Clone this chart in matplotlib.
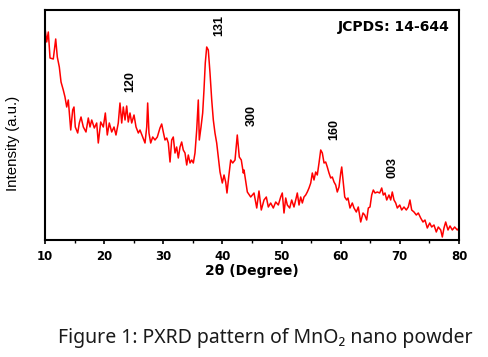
import matplotlib
matplotlib.use("Agg")
import matplotlib.pyplot as plt
from matplotlib.ticker import MultipleLocator

# 2-theta (degree) and intensity (a.u.)
two_theta = [10.00, 10.29, 10.56, 10.85, 11.40, 11.81, 12.08, 12.42, 12.71, 13.09,
             13.38, 13.67, 13.94, 14.35, 14.68, 14.90, 15.12, 15.53, 15.80, 16.09,
             16.48, 16.93, 17.32, 17.61, 17.90, 18.34, 18.74, 19.01, 19.42, 19.86,
             20.20, 20.53, 20.87, 21.28, 21.67, 22.00, 22.39, 22.68, 22.97, 23.24,
             23.53, 23.81, 24.08, 24.37, 24.66, 25.05, 25.39, 25.78, 26.06, 26.52,
             26.91, 27.20, 27.36, 27.58, 27.87, 28.21, 28.60, 28.99, 29.44, 29.73,
             30.00, 30.29, 30.58, 30.85, 31.14, 31.42, 31.69, 31.98, 32.26, 32.54,
             32.83, 33.11, 33.38, 33.67, 33.96, 34.23, 34.52, 34.80, 35.08, 35.36,
             35.65, 35.92, 36.09, 36.38, 36.66, 36.88, 37.10, 37.34, 37.61, 37.90,
             38.19, 38.46, 38.74, 39.03, 39.30, 39.59, 39.98, 40.27, 40.55, 40.77,
             41.06, 41.40, 41.74, 42.13, 42.51, 42.85, 43.19, 43.53, 43.65, 44.21,
             44.78, 45.34, 45.80, 46.18, 46.57, 47.03, 47.42, 47.76, 48.16, 48.60,
             49.01, 49.45, 49.85, 50.12, 50.41, 50.70, 50.97, 51.37, 51.71, 52.10,
             52.39, 52.66, 52.95, 53.23, 53.51, 53.79, 54.08, 54.35, 54.64, 54.93,
             55.20, 55.48, 55.77, 56.04, 56.33, 56.62, 56.89, 57.18, 57.46, 57.73,
             58.02, 58.31, 58.58, 58.87, 59.15, 59.42, 59.71, 60.00, 60.17, 60.39,
             60.68, 61.01, 61.23, 61.57, 61.96, 62.25, 62.64, 62.97, 63.38, 63.77,
             64.06, 64.39, 64.67, 64.95, 65.24, 65.51, 65.80, 66.19, 66.59, 66.93,
             67.20, 67.49, 67.78, 68.16, 68.45, 68.72, 69.01, 69.30, 69.57, 69.98,
             70.31, 70.70, 71.09, 71.43, 71.71, 72.00, 72.39, 72.78, 73.12, 73.52,
             73.91, 74.25, 74.64, 75.05, 75.38, 75.77, 76.16, 76.50, 76.91, 77.18,
             77.46, 77.75, 78.14, 78.48, 78.87, 79.27, 79.71, 80.00]
intensity = [212, 198, 208, 182, 181, 201, 183, 173, 158, 150,
             143, 133, 140, 110, 130, 133, 113, 107, 117, 123,
             113, 108, 122, 113, 120, 112, 117, 97, 118, 113,
             127, 105, 117, 108, 113, 105, 117, 137, 117, 133,
             120, 134, 118, 127, 117, 125, 113, 107, 110, 103,
             97, 113, 137, 107, 97, 103, 100, 103, 112, 116,
             108, 100, 102, 97, 78, 100, 103, 87, 93, 82,
             93, 98, 90, 87, 75, 85, 77, 80, 77, 87,
             110, 140, 100, 113, 127, 150, 177, 193, 190, 167,
             140, 120, 107, 97, 83, 68, 57, 65, 58, 47,
             63, 80, 77, 80, 105, 83, 80, 67, 70, 48,
             43, 47, 32, 49, 30, 40, 43, 33, 37, 32,
             38, 35, 43, 47, 27, 42, 35, 32, 40, 33,
             40, 47, 35, 43, 37, 43, 45, 48, 52, 57,
             67, 60, 68, 65, 77, 90, 87, 77, 78, 73,
             67, 62, 63, 58, 55, 48, 53, 67, 73, 60,
             43, 40, 42, 32, 37, 32, 28, 33, 18, 27,
             25, 20, 32, 33, 45, 50, 47, 48, 47, 52,
             45, 47, 40, 45, 40, 48, 40, 37, 32, 35,
             30, 33, 30, 33, 40, 30, 28, 25, 27, 22,
             18, 20, 12, 17, 13, 15, 8, 13, 10, 3,
             12, 18, 10, 14, 10, 13, 10, 12]

peak_labels = ["120", "131", "300", "160", "003"]
peak_x = [24.4, 39.4, 45.0, 58.9, 68.8]
peak_y = [158, 215, 125, 111, 73]

x_ticks = [10, 20, 30, 40, 50, 60, 70, 80]

fig = plt.figure(figsize=(4.88, 3.57), dpi=100)
ax = fig.add_axes([45/488, 1-240/357, 414/488, 230/357])

ax.plot(two_theta, intensity, color="#ff0000", lw=1.1)
ax.set_xlim(10, 80)
ax.set_ylim(0, 230)
ax.set_xticks(x_ticks)
ax.xaxis.set_minor_locator(MultipleLocator(5))
ax.set_yticks([])
ax.tick_params(axis="x", which="major", direction="out", length=3, width=1.2, pad=4)
ax.tick_params(axis="x", which="minor", direction="out", length=2, width=1.0)
for lab in ax.get_xticklabels():
    lab.set_fontfamily("DejaVu Sans")
    lab.set_fontweight("bold")
    lab.set_fontsize(8.5)
for sp in ax.spines.values():
    sp.set_linewidth(1.5)

ax.set_xlabel("2θ (Degree)", fontfamily="DejaVu Sans", fontweight="bold", fontsize=10, labelpad=1)
ax.set_ylabel("Intensity (a.u.)", fontfamily="Liberation Sans", fontsize=10.8)
ax.yaxis.set_label_coords(-0.06, 0.42)

for lab, px, py in zip(peak_labels, peak_x, peak_y):
    ax.text(px, py, lab, rotation=90, ha="center", va="center",
            fontfamily="Liberation Sans", fontweight="bold", fontsize=9)

ax.text(0.978, 0.926, "JCPDS: 14-644", transform=ax.transAxes, ha="right", va="center",
        fontfamily="DejaVu Sans", fontweight="bold", fontsize=10)

fig.text(0.544, 0.053, "Figure 1: PXRD pattern of MnO₂ nano powder", ha="center", va="center",
         fontfamily=["Noto Sans", "DejaVu Sans"], fontsize=14, color="#1a1a1a")

fig.savefig("out.png", dpi=100)
